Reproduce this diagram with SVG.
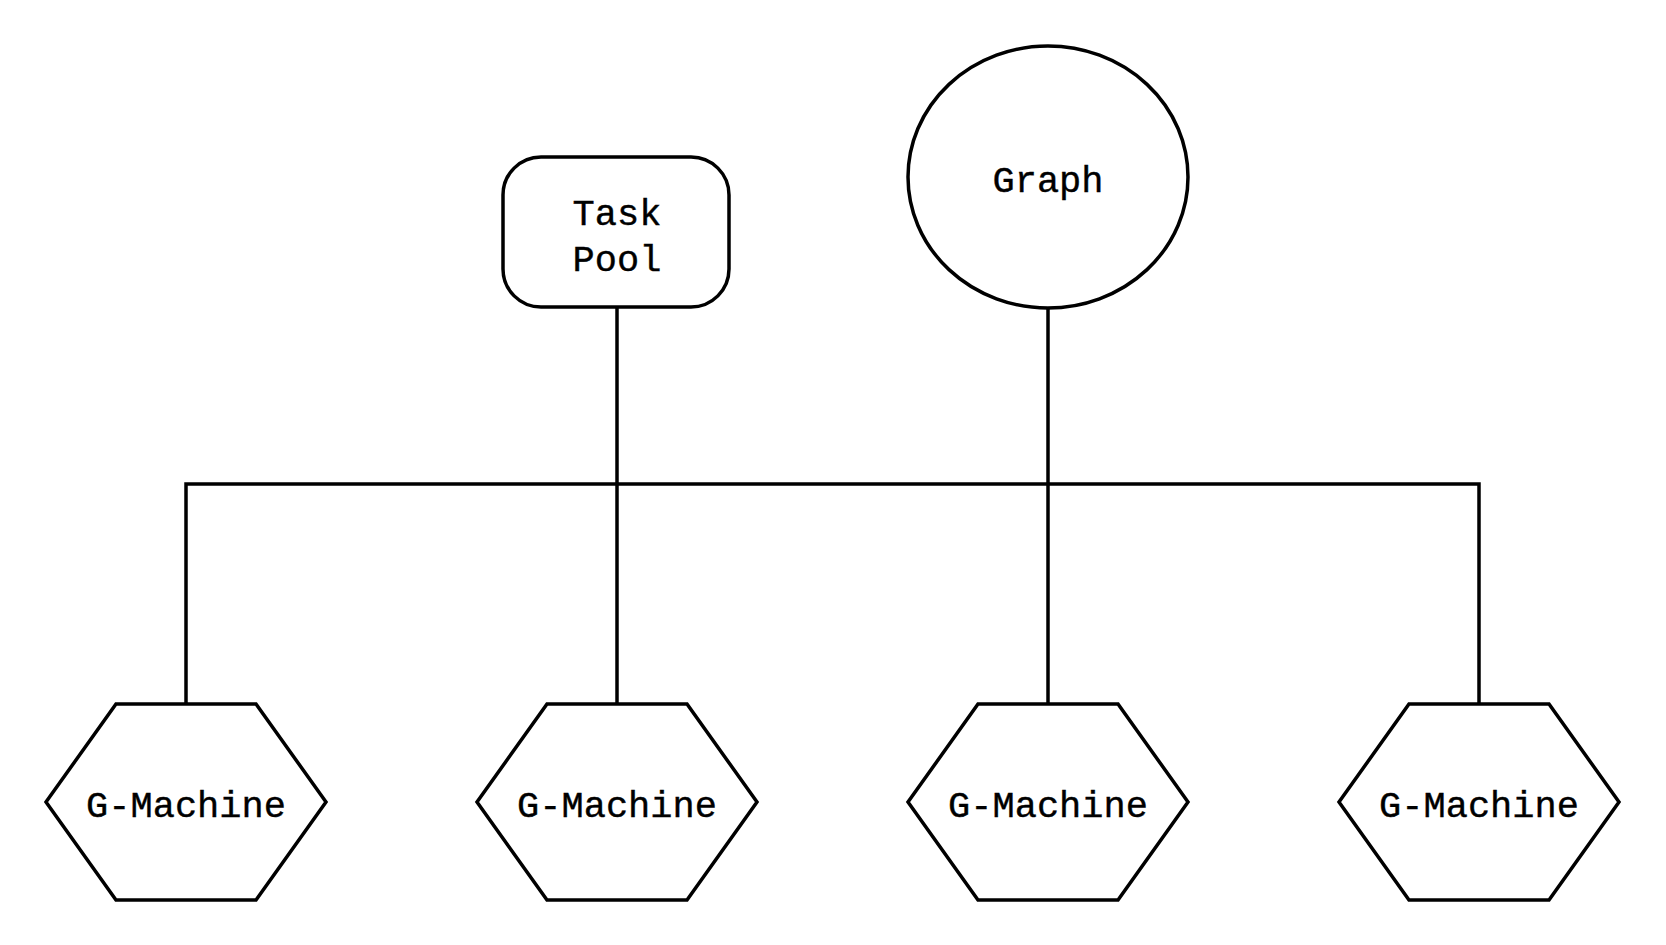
<svg xmlns="http://www.w3.org/2000/svg" width="1666" height="945" viewBox="0 0 1666 945">
<style>
.s{fill:#fff;stroke:#000;stroke-width:3.5;stroke-linejoin:miter}
.c{fill:none;stroke:#000;stroke-width:3.5}
.t{font-family:"Liberation Mono","Courier New",monospace;font-size:37px;fill:#000;text-anchor:middle;stroke:#000;stroke-width:0.4}
</style>
<rect width="1666" height="945" fill="#fff"/>
<g id="connectors">
<path class="c" d="M186,704 V484 H1479 V704"/>
<path class="c" d="M617,307 V704"/>
<path class="c" d="M1048,308 V704"/>
</g>
<g id="taskpool">
<rect class="s" x="503" y="157" width="226" height="150" rx="38" ry="38"/>
<text class="t" x="617" y="225">Task</text>
<text class="t" x="617" y="271">Pool</text>
</g>
<g id="graph">
<ellipse class="s" cx="1048" cy="177" rx="140" ry="131"/>
<text class="t" x="1048" y="192">Graph</text>
</g>
<g id="gm1">
<polygon class="s" points="116,704 256,704 326,802 256,900 116,900 46,802"/>
<text class="t" x="186" y="817">G-Machine</text>
</g>
<g id="gm2">
<polygon class="s" points="547,704 687,704 757,802 687,900 547,900 477,802"/>
<text class="t" x="617" y="817">G-Machine</text>
</g>
<g id="gm3">
<polygon class="s" points="978,704 1118,704 1188,802 1118,900 978,900 908,802"/>
<text class="t" x="1048" y="817">G-Machine</text>
</g>
<g id="gm4">
<polygon class="s" points="1409,704 1549,704 1619,802 1549,900 1409,900 1339,802"/>
<text class="t" x="1479" y="817">G-Machine</text>
</g>
</svg>
